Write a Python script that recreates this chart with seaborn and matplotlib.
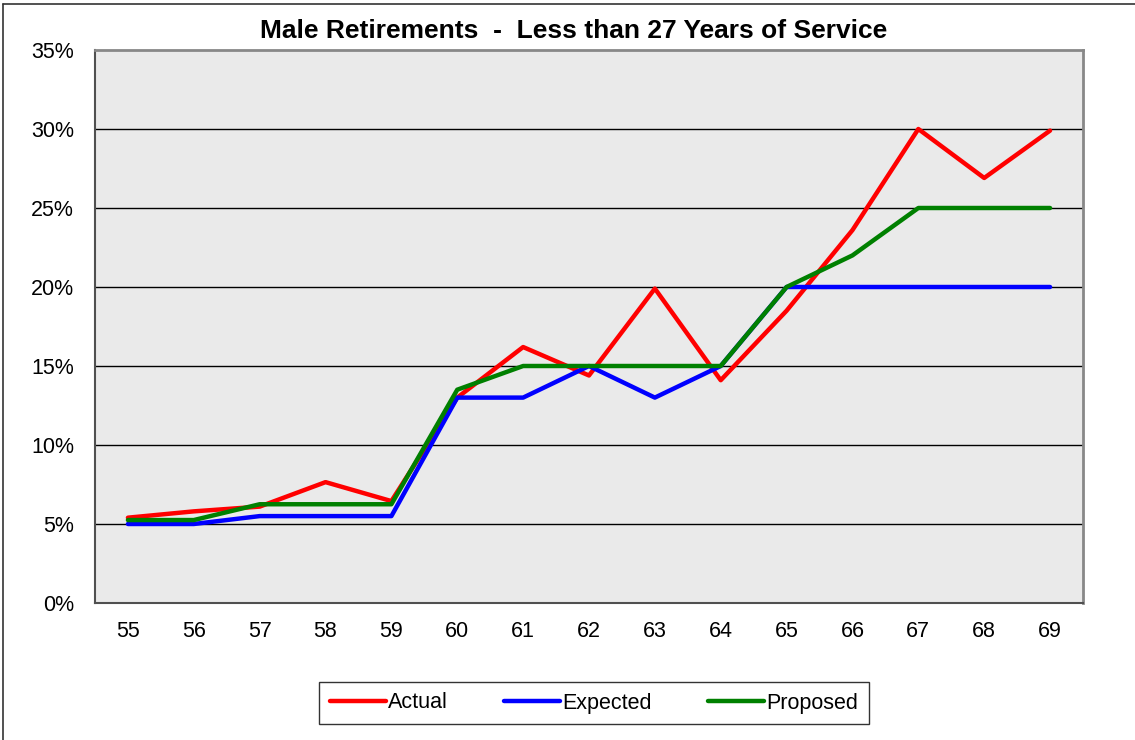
import matplotlib
matplotlib.use("Agg")
import matplotlib.pyplot as plt
import seaborn as sns
import pandas as pd
import numpy as np
from matplotlib.ticker import FixedLocator, FuncFormatter
from matplotlib.lines import Line2D

ages = ["55", "56", "57", "58", "59", "60", "61", "62", "63", "64", "65", "66", "67", "68", "69"]
actual = [5.4, 5.8, 6.1, 7.65, 6.45, 13.0, 16.2, 14.4, 19.9, 14.1, 18.5, 23.6, 30.0, 26.9, 29.9]
expected = [5.0, 5.0, 5.5, 5.5, 5.5, 13.0, 13.0, 15.0, 13.0, 15.0, 20.0, 20.0, 20.0, 20.0, 20.0]
proposed = [5.25, 5.25, 6.25, 6.25, 6.25, 13.5, 15.0, 15.0, 15.0, 15.0, 20.0, 22.0, 25.0, 25.0, 25.0]
series_names = ["Actual", "Expected", "Proposed"]
y_ticks = [0, 5, 10, 15, 20, 25, 30, 35]

rows = []
for name, vals in zip(series_names, [actual, expected, proposed]):
    for i, v in enumerate(vals):
        rows.append({"pos": i, "age": ages[i], "value": v, "series": name})
df = pd.DataFrame(rows)

sns.set_theme(style="white")
plt.rcParams['font.family'] = ['Liberation Sans', 'DejaVu Sans']
plt.rcParams['text.color'] = '#000000'

fig = plt.figure(figsize=(11.35, 7.4), dpi=100)
ax = fig.add_axes([95/1135, 1-603/740, 988/1135, 553/740])
ax.set_facecolor("#EAEAEA")

palette = {"Actual": "#FF0000", "Expected": "#0000FF", "Proposed": "#008000"}
sns.lineplot(data=df, x="pos", y="value", hue="series", palette=palette,
             linewidth=3.2, ax=ax, legend=True, hue_order=series_names)

ax.set_xlim(-0.5, len(ages) - 0.5)
ax.set_ylim(0, 35)
ax.set_xlabel("")
ax.set_ylabel("")

ax.yaxis.set_major_locator(FixedLocator(y_ticks))
ax.yaxis.set_major_formatter(FuncFormatter(lambda v, p: f"{int(v)}%"))
for t in y_ticks[1:-1]:
    ax.axhline(t, color="#000000", linewidth=1.0, zorder=0.5)

ax.set_xticks(range(len(ages)))
ax.set_xticklabels(ages)
ax.set_xticks(np.arange(-0.5, len(ages), 1.0), minor=True)
ax.tick_params(axis="x", which="major", length=0, pad=13, labelsize=15.5, colors="#000000")
ax.tick_params(axis="x", which="minor", length=6, width=1.2, color="#555555", direction="out")
ax.tick_params(axis="y", which="major", length=5, width=1.2, color="#555555", direction="out",
               labelsize=15.5, pad=10, labelcolor="#000000")

for side in ["left", "bottom"]:
    ax.spines[side].set_color("#505050")
    ax.spines[side].set_linewidth(1.5)
for side in ["top", "right"]:
    ax.spines[side].set_color("#888888")
    ax.spines[side].set_linewidth(2.0)

fig.text(574/1135, 1-31/740, "Male Retirements  -  Less than 27 Years of Service",
         ha="center", va="center", fontsize=19, fontweight="bold", color="#000000")

handles, labels = ax.get_legend_handles_labels()
ax.get_legend().remove()
leg = fig.legend(handles, labels, loc="center", bbox_to_anchor=(594/1135, 1-703/740),
                 ncol=3, frameon=True, fancybox=False, fontsize=15.5,
                 handlelength=2.6, handletextpad=0.1, columnspacing=2.6,
                 borderpad=0.5, edgecolor="#000000")
leg.get_frame().set_linewidth(1.0)
for lh in leg.get_lines():
    lh.set_linewidth(3.2)
for txt in leg.get_texts():
    txt.set_color("#000000")

# outer chart border (left and top edges visible)
fig.add_artist(Line2D([2.5/1135, 2.5/1135], [0, 1-4/740], transform=fig.transFigure,
                      color="#333333", linewidth=1.2))
fig.add_artist(Line2D([2.5/1135, 1], [1-4/740, 1-4/740], transform=fig.transFigure,
                      color="#333333", linewidth=1.2))

fig.savefig("out.png", dpi=100)
